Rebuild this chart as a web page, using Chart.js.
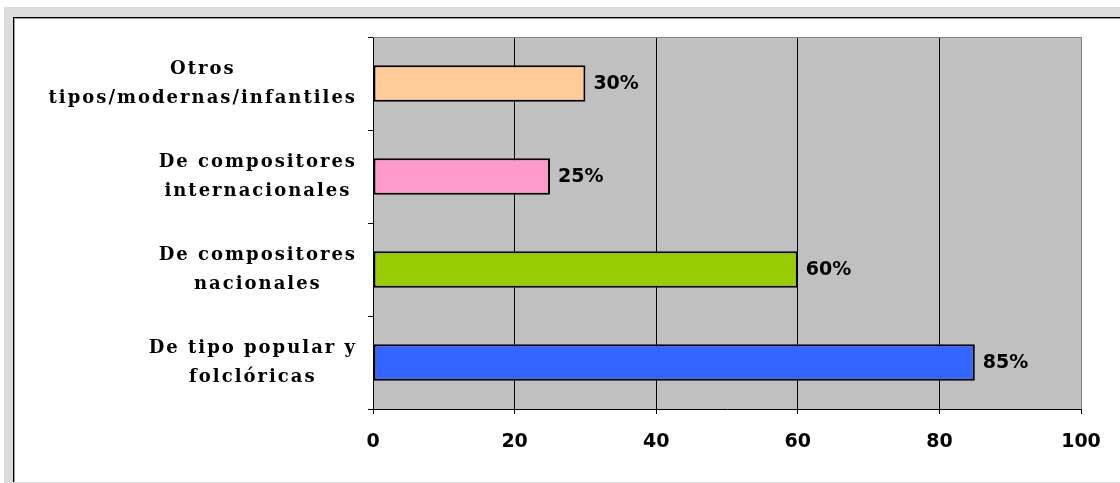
<!DOCTYPE html>
<html>
<head>
<meta charset="utf-8">
<script src="https://cdn.jsdelivr.net/npm/chart.js@4/dist/chart.umd.min.js"></script>
<style>
  html, body { margin: 0; padding: 0; background: #ffffff; width: 1120px; height: 483px; overflow: hidden; }
  #frame { position: absolute; left: 4px; top: 7px; width: 1116px; height: 476px; background: #dcdcdc; }
  #inner { position: absolute; left: 13px; top: 17px; width: 1107px; height: 464px; background: #ffffff;
           border-left: 1px solid #000; border-top: 1px solid #000; box-shadow: inset 1px 1px 0 #9a9a9a; }
  #wrap { position: absolute; left: 15px; top: 19px; width: 1105px; height: 462px; }
</style>
</head>
<body>
<div id="frame"></div>
<div id="inner"></div>
<div id="wrap"><canvas id="c" width="1105" height="462"></canvas></div>
<script>
// ---- data ----
const categories = [
  ['Otros', 'tipos/modernas/infantiles'],
  ['De compositores', 'internacionales'],
  ['De compositores', 'nacionales'],
  ['De tipo popular y', 'folclóricas']
];
const values = [30, 25, 60, 85];
const barColors = ['#ffcc99', '#ff99cc', '#99cc00', '#3366ff'];
const xTickMin = 0, xTickMax = 100, xTickStep = 20;

const LABEL_FONT = 'bold 18px "DejaVu Serif"';
const VALUE_FONT = 'bold 19px "DejaVu Sans"';

const plotBg = {
  id: 'plotBg',
  beforeDraw(chart) {
    const {ctx, chartArea: a} = chart;
    ctx.save();
    ctx.fillStyle = '#c0c0c0';
    ctx.fillRect(a.left, a.top, a.right - a.left, a.bottom - a.top);
    ctx.restore();
  },
  afterDraw(chart) {
    const {ctx, chartArea: a} = chart;
    ctx.save();
    ctx.strokeStyle = '#808080';
    ctx.lineWidth = 1;
    ctx.beginPath();
    ctx.moveTo(a.left, a.top + 0.5);
    ctx.lineTo(a.right, a.top + 0.5);
    ctx.stroke();
    ctx.restore();
  }
};

const valueLabels = {
  id: 'valueLabels',
  afterDatasetsDraw(chart) {
    const {ctx} = chart;
    const meta = chart.getDatasetMeta(0);
    ctx.save();
    ctx.font = VALUE_FONT;
    ctx.fillStyle = '#000';
    ctx.textAlign = 'left';
    ctx.textBaseline = 'middle';
    meta.data.forEach((bar, i) => {
      ctx.fillText(values[i] + '%', bar.x + 8, bar.y + 1);
    });
    ctx.restore();
  }
};

const catLabels = {
  id: 'catLabels',
  afterDraw(chart) {
    const {ctx, chartArea: a} = chart;
    const ys = chart.scales.y;
    const rightEdge = a.left - 5 - 12;
    const lineH = 29;
    ctx.save();
    ctx.font = LABEL_FONT;
    if ('letterSpacing' in ctx) ctx.letterSpacing = '2px';
    ctx.fillStyle = '#000';
    ctx.textAlign = 'center';
    ctx.textBaseline = 'middle';
    categories.forEach((lines, i) => {
      const yc = ys.getPixelForTick(i);
      const widest = Math.max(...lines.map(l => ctx.measureText(l).width));
      const cx = rightEdge - widest / 2;
      const y0 = yc - (lines.length - 1) * lineH / 2;
      lines.forEach((l, j) => ctx.fillText(l, cx + 1, y0 + j * lineH));
    });
    ctx.restore();
  }
};

new Chart(document.getElementById('c'), {
  type: 'bar',
  data: {
    labels: categories,
    datasets: [{
      data: values,
      backgroundColor: barColors,
      borderColor: '#000',
      borderWidth: 2,
      borderSkipped: false,
      categoryPercentage: 1,
      barPercentage: 0.39
    }]
  },
  options: {
    indexAxis: 'y',
    responsive: false,
    animation: false,
    devicePixelRatio: 1,
    layout: { padding: { left: 0, top: 18, right: 39, bottom: 0 } },
    plugins: { legend: { display: false }, tooltip: { enabled: false } },
    scales: {
      x: {
        min: xTickMin, max: xTickMax,
        ticks: { stepSize: xTickStep, color: '#000', font: { family: 'DejaVu Sans', size: 19, weight: 'bold' }, padding: 17 },
        grid: {
          color: (c) => (c.tick && c.tick.value === xTickMax) ? '#808080' : '#000',
          lineWidth: 1, tickLength: 5, tickColor: '#000'
        },
        border: { color: '#000', width: 1 },
        afterFit(s) { s.height = 72; }
      },
      y: {
        ticks: { display: false },
        grid: { drawOnChartArea: false, offset: true, tickLength: 5, tickColor: '#000' },
        border: { color: '#000', width: 1 },
        afterFit(s) { s.width = 358; }
      }
    }
  },
  plugins: [plotBg, valueLabels, catLabels]
});
</script>
</body>
</html>
